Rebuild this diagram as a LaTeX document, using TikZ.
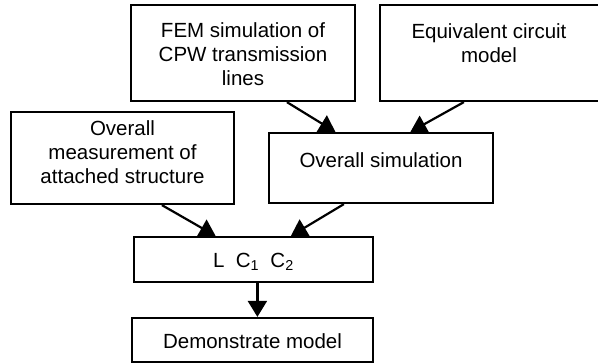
\documentclass[tikz,border=0pt]{standalone}
\usepackage{fontspec}
\setmainfont{Liberation Sans}
\usetikzlibrary{arrows.meta,calc}
\begin{document}
\begin{tikzpicture}[x=1pt,y=-1pt,
  box/.style={draw,line width=2.2pt,rectangle,inner sep=0pt},
  txt/.style={align=center,font=\fontsize{20.5}{24}\selectfont,inner sep=0pt},
  arr/.style={line width=2.2pt,-{Triangle[length=16pt,width=19pt]}}]
\useasboundingbox (0,0) rectangle (598,364);
% boxes
\node[box,minimum width=224pt,minimum height=96pt] (fem) at (243,53) {};
\node[box,minimum width=222pt,minimum height=96pt] (eq) at (491,53) {};
\node[box,minimum width=223pt,minimum height=92pt] (meas) at (122.5,158) {};
\node[box,minimum width=224pt,minimum height=70pt] (sim) at (381,168) {};
\node[box,minimum width=239pt,minimum height=45pt] (lc) at (253.5,259.5) {};
\node[box,minimum width=241pt,minimum height=44pt] (demo) at (252.5,340) {};
% texts
\node[txt] (femt) at ($(fem.center)+(0,1)$) {FEM simulation of\\CPW transmission\\lines};
\node[txt] (eqt) at ($(eq.center)+(-2,-10)$) {Equivalent circuit\\model};
\node[txt] (meast) at ($(meas.center)+(0,-6)$) {Overall\\measurement of\\attached structure};
\node[txt] (simt) at ($(sim.center)+(0,-8)$) {Overall simulation};
\node[txt] (lct) at ($(lc.center)+(0,2)$) {L\hspace{0.55em}C\textsubscript{1}\hspace{0.55em}C\textsubscript{2}};
\node[txt] (demot) at ($(demo.center)+(0,1)$) {Demonstrate model};
% connectors
\draw[arr] ($(fem.south west)+(157,0)$) -- ($(sim.north west)+(67.5,0)$);
\draw[arr] ($(eq.south west)+(85,0)$) -- ($(sim.north west)+(142.5,0)$);
\draw[arr] ($(meas.south west)+(152,0)$) -- ($(lc.north west)+(82.7,0)$);
\draw[arr] ($(sim.south west)+(76,0)$) -- ($(lc.north west)+(158,0)$);
\coordinate (ls) at ($(lc.south west)+(124.5,0)$);
\draw[arr] (ls) -- (ls |- demo.north);
\end{tikzpicture}
\end{document}
